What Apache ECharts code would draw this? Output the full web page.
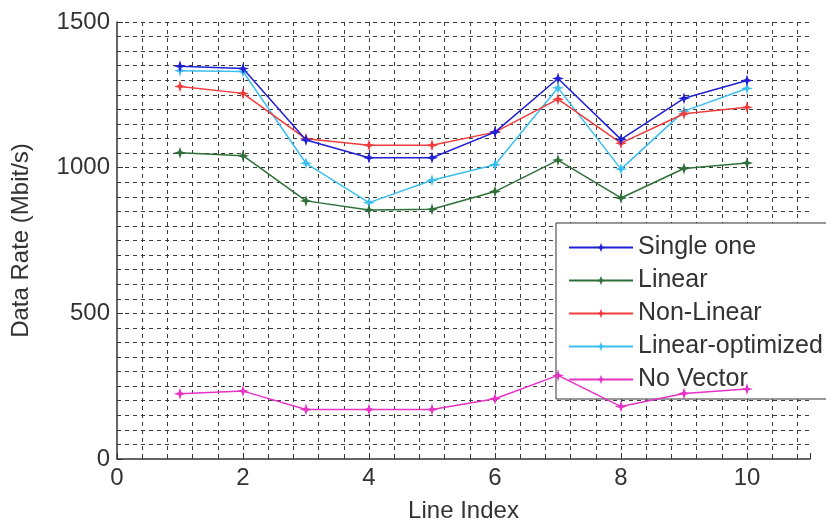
<!DOCTYPE html>
<html>
<head>
<meta charset="utf-8">
<script src="https://cdn.jsdelivr.net/npm/echarts@6/dist/echarts.min.js"></script>
<style>
  html, body { margin: 0; padding: 0; background: #fff; }
  #main { width: 826px; height: 528px; }
</style>
</head>
<body>
<div id="main"></div>
<script>
// line index 1..10
var lineIndex = [1, 2, 3, 4, 5, 6, 7, 8, 9, 10];
var singleOne = [1348, 1340, 1095, 1034, 1034, 1122, 1306, 1097, 1238, 1299];
var linear = [1051, 1041, 886, 855, 857, 918, 1026, 896, 997, 1016];
var nonLinear = [1279, 1255, 1099, 1077, 1077, 1122, 1235, 1084, 1185, 1207];
var linearOpt = [1333, 1330, 1015, 880, 957, 1010, 1274, 995, 1194, 1272];
var noVector = [224, 233, 170, 170, 170, 207, 287, 180, 225, 240];
var seriesNames = ["Single one", "Linear", "Non-Linear", "Linear-optimized", "No Vector"];
var seriesColors = ["#1f1fd6", "#2f6f3a", "#f03c3c", "#3cbfee", "#e633c6"];

var chartDom = document.getElementById("main");
var myChart = echarts.init(chartDom);

var star = "path://M0,-10 L2.4,-2.4 L10,0 L2.4,2.4 L0,10 L-2.4,2.4 L-10,0 L-2.4,-2.4 Z";
var font = "Liberation Sans";
var gridLine = { show: true, lineStyle: { color: "#3a3a3a", width: 1, type: [4, 4] } };

function pairs(vals) {
  return lineIndex.map(function (x, i) { return [x, vals[i]]; });
}

var allVals = [singleOne, linear, nonLinear, linearOpt, noVector];
var series = allVals.map(function (vals, k) {
  return {
    name: seriesNames[k],
    type: "line",
    xAxisIndex: 0,
    data: pairs(vals),
    symbol: star,
    symbolSize: 12,
    color: seriesColors[k],
    lineStyle: { width: 1.5, color: seriesColors[k] },
    itemStyle: { color: seriesColors[k] },
    z: 10 - k,
  };
});

var option = {
  animation: false,
  backgroundColor: "#fff",
  grid: { left: 117, right: 16, top: 22, bottom: 65 },
  legend: {
    left: 556,
    top: 223,
    orient: "vertical",
    data: seriesNames,
    itemWidth: 64,
    itemHeight: 12,
    itemGap: 8,
    padding: [12, 20, 7, 12],
    backgroundColor: "#fff",
    borderColor: "#333",
    borderWidth: 1,
    borderRadius: 0,
    textStyle: { fontFamily: font, fontSize: 25, color: "#333" },
  },
  xAxis: [
    {
      type: "value",
      min: 0,
      max: 11,
      interval: 2,
      name: "Line Index",
      nameLocation: "middle",
      nameGap: 40,
      nameTextStyle: { fontFamily: font, fontSize: 24, color: "#333" },
      axisLine: { show: true, lineStyle: { color: "#333", width: 1.5 } },
      axisTick: { show: true, inside: true, length: 6, lineStyle: { color: "#333" } },
      axisLabel: {
        fontFamily: font,
        fontSize: 24,
        color: "#333",
        margin: 7,
        formatter: function (v) { return v === 11 ? "" : String(v); },
      },
      splitLine: { show: false },
    },
    {
      type: "value",
      position: "bottom",
      min: 0,
      max: 11,
      interval: 0.4,
      axisLine: { show: false },
      axisTick: { show: true, inside: true, length: 3, lineStyle: { color: "#333" } },
      axisLabel: { show: false },
      splitLine: Object.assign({ showMinLine: false, showMaxLine: false }, gridLine),
    },
  ],
  yAxis: {
    type: "value",
    min: 0,
    max: 1500,
    interval: 500,
    name: "Data Rate (Mbit/s)",
    nameLocation: "middle",
    nameGap: 84,
    nameTextStyle: { fontFamily: font, fontSize: 24, color: "#333" },
    axisLine: { show: true, lineStyle: { color: "#333", width: 1.5 } },
    axisTick: { show: true, inside: true, length: 6, lineStyle: { color: "#333" } },
    minorTick: { show: true, splitNumber: 10, length: 3, lineStyle: { color: "#333" } },
    axisLabel: {
      fontFamily: font,
      fontSize: 24,
      color: "#333",
      margin: 7,
      formatter: function (v) { return String(v); },
    },
    splitLine: Object.assign({ showMinLine: false }, gridLine),
    minorSplitLine: gridLine,
  },
  series: series,
};

option && myChart.setOption(option);
</script>
</body>
</html>
